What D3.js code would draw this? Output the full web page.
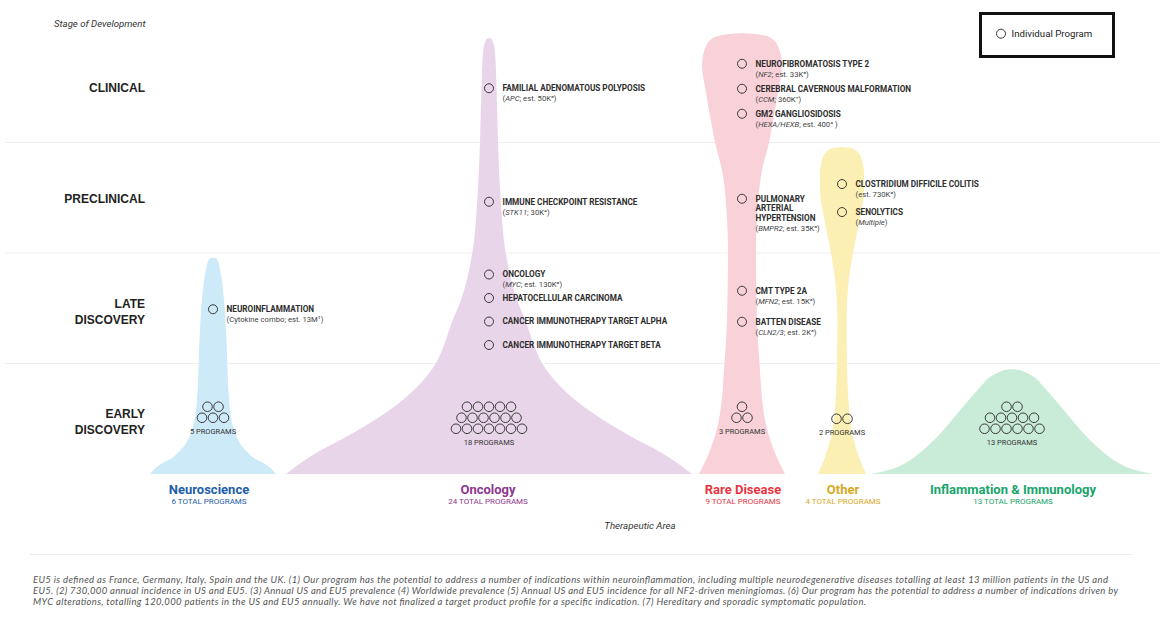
<!DOCTYPE html>
<html>
<head>
<meta charset="utf-8">
<script src="https://cdn.jsdelivr.net/npm/d3@7"></script>
<style>
  body { margin: 0; background: #ffffff; }
  svg { display: block; }
</style>
</head>
<body>
<svg id="chart" width="1176" height="626"></svg>
<script>
// ---------------- DATA ----------------
const stages = ["EARLY DISCOVERY", "LATE DISCOVERY", "PRECLINICAL", "CLINICAL"];
const stageLabelLines = [["EARLY", "DISCOVERY"], ["LATE", "DISCOVERY"], ["PRECLINICAL"], ["CLINICAL"]];
const areas = ["Neuroscience", "Oncology", "Rare Disease", "Other", "Inflammation & Immunology"];
const totalPrograms = [6, 24, 9, 4, 13];
const earlyDiscoveryPrograms = [5, 18, 3, 2, 13];

const neurosciencePrograms = [
  { stage: "LATE DISCOVERY", name: ["NEUROINFLAMMATION"], detail: "(Cytokine combo; est. 13M¹)" }
];
const oncologyPrograms = [
  { stage: "CLINICAL", name: ["FAMILIAL ADENOMATOUS POLYPOSIS"], detail: "(APC; est. 50K³)" },
  { stage: "PRECLINICAL", name: ["IMMUNE CHECKPOINT RESISTANCE"], detail: "(STK11; 30K⁴)" },
  { stage: "LATE DISCOVERY", name: ["ONCOLOGY"], detail: "(MYC; est. 130K⁶)" },
  { stage: "LATE DISCOVERY", name: ["HEPATOCELLULAR CARCINOMA"], detail: null },
  { stage: "LATE DISCOVERY", name: ["CANCER IMMUNOTHERAPY TARGET ALPHA"], detail: null },
  { stage: "LATE DISCOVERY", name: ["CANCER IMMUNOTHERAPY TARGET BETA"], detail: null }
];
const rareDiseasePrograms = [
  { stage: "CLINICAL", name: ["NEUROFIBROMATOSIS TYPE 2"], detail: "(NF2; est. 33K⁵)" },
  { stage: "CLINICAL", name: ["CEREBRAL CAVERNOUS MALFORMATION"], detail: "(CCM; 360K⁷)" },
  { stage: "CLINICAL", name: ["GM2 GANGLIOSIDOSIS"], detail: "(HEXA/HEXB; est. 400⁴ )" },
  { stage: "PRECLINICAL", name: ["PULMONARY", "ARTERIAL", "HYPERTENSION"], detail: "(BMPR2; est. 35K³)" },
  { stage: "LATE DISCOVERY", name: ["CMT TYPE 2A"], detail: "(MFN2; est. 15K³)" },
  { stage: "LATE DISCOVERY", name: ["BATTEN DISEASE"], detail: "(CLN2/3; est. 2K³)" }
];
const otherPrograms = [
  { stage: "PRECLINICAL", name: ["CLOSTRIDIUM DIFFICILE COLITIS"], detail: "(est. 730K²)" },
  { stage: "PRECLINICAL", name: ["SENOLYTICS"], detail: "(Multiple)" }
];
const italicTerms = ["APC", "STK11", "MYC", "NF2", "CCM", "HEXA/HEXB", "BMPR2", "MFN2", "CLN2/3", "Multiple"];

const footnoteLines = [
  "EU5 is defined as France, Germany, Italy, Spain and the UK. (1) Our program has the potential to address a number of indications within neuroinflammation, including multiple neurodegenerative diseases totalling at least 13 million patients in the US and",
  "EU5. (2) 730,000 annual incidence in US and EU5. (3) Annual US and EU5 prevalence (4) Worldwide prevalence (5) Annual US and EU5 incidence for all NF2-driven meningiomas. (6) Our program has the potential to address a number of indications driven by",
  "MYC alterations, totalling 120,000 patients in the US and EU5 annually.  We have not finalized a target product profile for a specific indication.  (7) Hereditary and sporadic symptomatic population."
];

// ---------------- LAYOUT / STYLE ----------------
const baseY = 474, topY = 32;
const areaCenters = [213, 489, 742, 842, 1012];
const areaLabelX = [209, 488, 743, 843, 1013];
const fills = ["#cdeaf8", "#e9d5e9", "#f9d1d9", "#fbefb4", "#c9ecd9"];
const labelColors = ["#1d5ea8", "#8d368f", "#e7353f", "#d8a81f", "#17a56b"];
const clusterRows = [[2, 3], [5, 6, 7], [1, 2], [2], [2, 5, 6]];
const groupLayout = {
  "Oncology|LATE DISCOVERY": { spacing: 23.5, shift: 1.5 },
  "Oncology|PRECLINICAL": { spacing: 24, shift: 4 },
  "Rare Disease|CLINICAL": { spacing: 25, shift: 1.5 },
  "Rare Disease|LATE DISCOVERY": { spacing: 31, shift: -2 },
  "Other|PRECLINICAL": { spacing: 28, shift: 0.3 }
};
// silhouettes: [stage position, half width in px], top to bottom
const silhouettes = [
  [[1.96, 0], [1.955, 2.5], [1.935, 4.5], [1.85, 7], [1.575, 11], [1.21, 13.5], [0.67, 16], [0.40, 21], [0.22, 32], [0.14, 42], [0.08, 54], [0, 63]],
  [[3.946, 0], [3.937, 2.5], [3.91, 4], [3.81, 6], [3.50, 7.5], [3.00, 9], [2.48, 11.7], [2.00, 16.7], [1.575, 28], [1.376, 37], [1.167, 45], [1.005, 53], [0.643, 90], [0.335, 143], [0.19, 173], [0, 203]],
  [[3.99, 0], [3.975, 18], [3.94, 30], [3.85, 37], [3.70, 40], [3.50, 37], [3.20, 31], [3.00, 27], [2.75, 20], [2.45, 16], [2.00, 14], [1.39, 15], [1.00, 17.5], [0.49, 23], [0.19, 33], [0, 43]],
  [[2.96, 0], [2.952, 8], [2.935, 13], [2.90, 17], [2.84, 20], [2.71, 22], [2.57, 22], [2.30, 17.5], [2.00, 11], [1.69, 6], [1.39, 4.6], [1.00, 5], [0.64, 6.7], [0.33, 11], [0.13, 18], [0, 24]],
  [[0.95, 0], [0.944, 6], [0.933, 10], [0.914, 15], [0.87, 23], [0.805, 30], [0.652, 45], [0.489, 60], [0.335, 75], [0.208, 90], [0.109, 105], [0.045, 120], [0, 140]]
];

const svg = d3.select("#chart");
const y = d3.scaleLinear().domain([0, stages.length]).range([baseY, topY]);
const yBand = d3.scaleBand().domain(stages).range([baseY, topY]);
const bandMid = s => yBand(s) + yBand.bandwidth() / 2;
const x = d3.scaleOrdinal().domain(areas).range(areaCenters);
const xLabel = d3.scaleOrdinal().domain(areas).range(areaLabelX);

const FONT = "Roboto, 'Liberation Sans', sans-serif";

// grid lines between stages
svg.append("g").selectAll("line")
  .data(d3.range(1, stages.length))
  .join("line")
  .attr("x1", 5).attr("x2", 1160)
  .attr("y1", d => y(d)).attr("y2", d => y(d))
  .attr("stroke", "#efefef").attr("stroke-width", 1.2);

// silhouettes
areas.forEach((a, i) => {
  const cx = x(a);
  const gen = d3.area().curve(d3.curveMonotoneY)
    .y(d => y(d[0]))
    .x0(d => cx - d[1])
    .x1(d => cx + d[1]);
  svg.append("path").datum(silhouettes[i]).attr("d", gen).attr("fill", fills[i]);
});

// stage labels
const stageG = svg.append("g");
stages.forEach((s, i) => {
  const lines = stageLabelLines[i];
  const mid = bandMid(s) + (lines.length > 1 ? 3.2 : 0.6);
  const lh = 16;
  lines.forEach((ln, j) => {
    stageG.append("text")
      .attr("x", 145)
      .attr("y", mid + (j - (lines.length - 1) / 2) * lh + 4.3)
      .attr("text-anchor", "end")
      .attr("font-family", "'Liberation Sans', Arial, sans-serif")
      .attr("font-weight", "bold")
      .attr("font-size", 12)
      .attr("fill", "#222")
      .text(ln);
  });
});

// axis titles
svg.append("text").attr("x", 54).attr("y", 26.5)
  .attr("font-family", FONT).attr("font-style", "italic").attr("font-size", 9.6).attr("fill", "#333")
  .text("Stage of Development");
svg.append("text").attr("x", 640).attr("y", 528.5).attr("text-anchor", "middle")
  .attr("font-family", FONT).attr("font-style", "italic").attr("font-size", 9.7).attr("fill", "#333")
  .text("Therapeutic Area");

// detail text with italic terms
function addDetail(sel, str) {
  const re = new RegExp("(" + italicTerms.map(t => t.replace(/[\/]/g, "\\/")).join("|") + ")");
  str.split(re).filter(p => p.length).forEach(p => {
    sel.append("tspan").attr("font-style", italicTerms.includes(p) ? "italic" : "normal").text(p);
  });
}

// individual programs
const programGroups = [neurosciencePrograms, oncologyPrograms, rareDiseasePrograms, otherPrograms];
const progG = svg.append("g");
programGroups.forEach((list, ai) => {
  const a = areas[ai];
  const cx = x(a);
  const byStage = d3.group(list, d => d.stage);
  byStage.forEach((items, st) => {
    const gl = groupLayout[a + "|" + st] || { spacing: 24, shift: 1 };
    items.forEach((p, k) => {
      const cy = bandMid(st) + gl.shift + (k - (items.length - 1) / 2) * gl.spacing;
      progG.append("circle").attr("cx", cx).attr("cy", cy).attr("r", 4.5)
        .attr("fill", "none").attr("stroke", "#3a3a3a").attr("stroke-width", 1);
      const tx = cx + 13.5;
      p.name.forEach((ln, j) => {
        progG.append("text").attr("x", tx).attr("y", cy + 2.9 + j * 9.6)
          .attr("font-family", FONT).attr("font-weight", "bold").attr("font-size", 8.2)
          .attr("fill", "#2e2e2e").text(ln);
      });
      if (p.detail) {
        const t = progG.append("text").attr("x", tx).attr("y", cy + 2.9 + p.name.length * 9.6 + 0.3)
          .attr("font-family", FONT).attr("font-size", 7.7).attr("fill", "#444");
        addDetail(t, p.detail);
      }
    });
  });
});

// early discovery clusters
const clusterG = svg.append("g");
const earlyMid = bandMid("EARLY DISCOVERY");
areas.forEach((a, i) => {
  const rows = clusterRows[i];
  const cx = x(a);
  let lastY = earlyMid;
  rows.forEach((n, r) => {
    const ry = rows.length === 1 ? earlyMid : earlyMid - 12 + r * 11;
    lastY = ry;
    d3.range(n).forEach(j => {
      clusterG.append("circle").attr("cx", cx + (j - (n - 1) / 2) * 11).attr("cy", ry).attr("r", 4.8)
        .attr("fill", "none").attr("stroke", "#3a3a3a").attr("stroke-width", 1);
    });
  });
  clusterG.append("text").attr("x", cx).attr("y", lastY + 14 + 2.7).attr("text-anchor", "middle")
    .attr("font-family", FONT).attr("font-size", 7.5).attr("fill", "#333")
    .text(earlyDiscoveryPrograms[i] + " PROGRAMS");
});

// area labels
const labG = svg.append("g");
areas.forEach((a, i) => {
  labG.append("text").attr("x", xLabel(a)).attr("y", 493.5).attr("text-anchor", "middle")
    .attr("font-family", FONT).attr("font-weight", "bold").attr("font-size", 13)
    .attr("fill", labelColors[i]).text(a);
  labG.append("text").attr("x", xLabel(a)).attr("y", 504).attr("text-anchor", "middle")
    .attr("font-family", FONT).attr("font-size", 8)
    .attr("fill", labelColors[i]).text(totalPrograms[i] + " TOTAL PROGRAMS");
});

// legend
const lg = svg.append("g");
lg.append("rect").attr("x", 980.5).attr("y", 13.5).attr("width", 133).attr("height", 43)
  .attr("fill", "#fff").attr("stroke", "#111").attr("stroke-width", 3);
lg.append("circle").attr("cx", 1001).attr("cy", 33.7).attr("r", 4.5)
  .attr("fill", "none").attr("stroke", "#3a3a3a").attr("stroke-width", 1);
lg.append("text").attr("x", 1011.5).attr("y", 37)
  .attr("font-family", FONT).attr("font-size", 9.7).attr("fill", "#222").text("Individual Program");

// footnote
svg.append("line").attr("x1", 30).attr("x2", 1133).attr("y1", 554.5).attr("y2", 554.5)
  .attr("stroke", "#ececec").attr("stroke-width", 1);
const footLengths = [1075, 1085, 833];
footnoteLines.forEach((ln, i) => {
  svg.append("text").attr("x", 33).attr("y", 582.5 + i * 11.3)
    .attr("font-family", "Lato, 'Open Sans', sans-serif").attr("font-style", "italic")
    .attr("font-size", 9.5).attr("fill", "#555")
    .attr("textLength", footLengths[i]).attr("lengthAdjust", "spacing")
    .text(ln);
});
</script>
</body>
</html>
